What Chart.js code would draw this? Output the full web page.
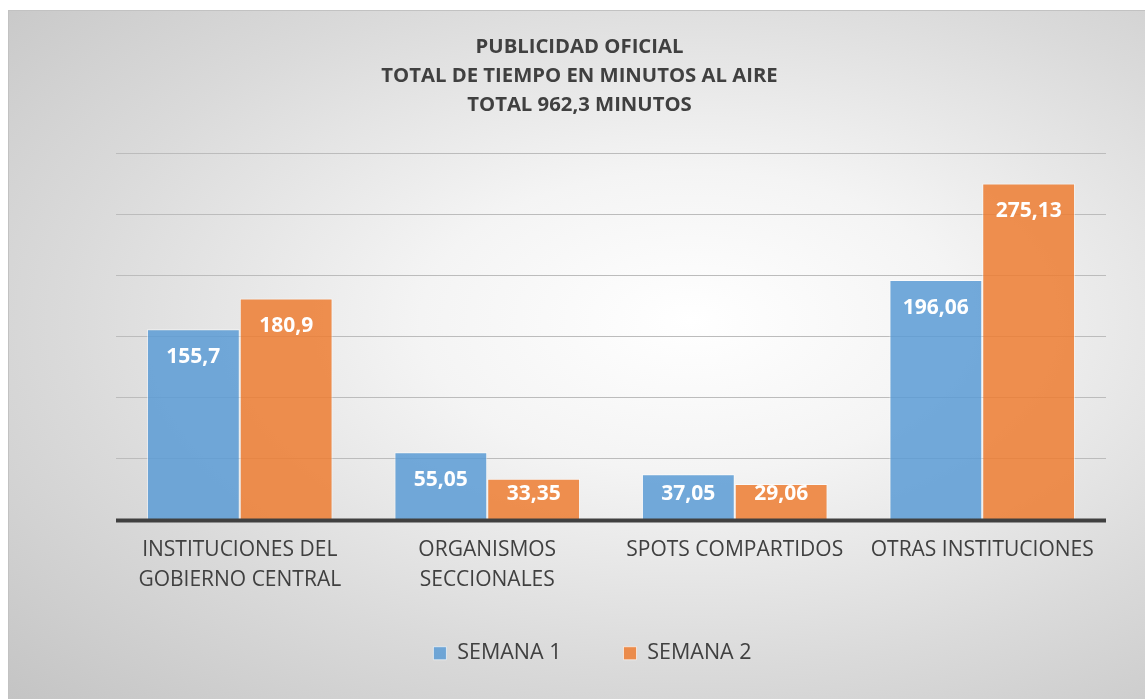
<!DOCTYPE html>
<html>
<head>
<meta charset="utf-8">
<script src="https://cdn.jsdelivr.net/npm/chart.js@4.4.0/dist/chart.umd.min.js"></script>
<style>
  html, body { margin: 0; padding: 0; background: #ffffff; overflow: hidden; }
  #box {
    position: absolute; left: 8px; top: 10px; width: 1137px; height: 689px; overflow: hidden;
    border-left: 1px solid #c2c2c2; border-top: 1px solid #c2c2c2;
    background: radial-gradient(ellipse farthest-corner at 60% 45%, #ffffff 0%, #f4f4f4 28%, #dadada 65%, #c4c4c4 100%);
  }
  #chart { display: block; }
</style>
</head>
<body>
<div id="box"><canvas id="chart" width="1136" height="700"></canvas></div>
<script>
const categorias = [
  ['INSTITUCIONES DEL', 'GOBIERNO CENTRAL'],
  ['ORGANISMOS', 'SECCIONALES'],
  'SPOTS COMPARTIDOS',
  'OTRAS INSTITUCIONES'
]
const semana1 = [155.7, 55.05, 37.05, 196.06]
const semana2 = [180.9, 33.35, 29.06, 275.13]
const titulo = ['PUBLICIDAD OFICIAL', 'TOTAL DE TIEMPO EN MINUTOS AL AIRE', 'TOTAL 962,3 MINUTOS']

const fuente = "'Open Sans', sans-serif"

// etiquetas blancas dentro de cada barra + linea base
const etiquetas = {
  id: 'etiquetas',
  afterLayout(chart) {
    // la leyenda va un poco mas arriba y a la derecha que en el layout normal
    const l = chart.legend
    l.top -= 31; l.bottom -= 31
    l.left += 13; l.right += 13
  },
  afterDatasetsDraw(chart) {
    const ctx = chart.ctx
    ctx.save()
    ctx.fillStyle = '#ffffff'
    ctx.font = 'bold 21px ' + fuente
    ctx.textAlign = 'center'
    ctx.textBaseline = 'middle'
    chart.data.datasets.forEach((ds, i) => {
      chart.getDatasetMeta(i).data.forEach((bar, j) => {
        // en barras bajas la etiqueta no baja de cierta altura
        let y = Math.min(bar.y + 28, bar.base - 25)
        ctx.fillText(String(ds.data[j]).replace('.', ','), bar.x, y)
      })
    })
    const y0 = chart.scales.y.getPixelForValue(0)
    ctx.strokeStyle = '#404040'
    ctx.lineWidth = 4
    ctx.beginPath()
    ctx.moveTo(chart.chartArea.left, y0 + 1)
    ctx.lineTo(chart.chartArea.right, y0 + 1)
    ctx.stroke()
    ctx.restore()
  }
}

new Chart(document.getElementById('chart'), {
  type: 'bar',
  data: {
    labels: categorias,
    datasets: [
      {
        label: 'SEMANA 1',
        data: semana1,
        backgroundColor: 'rgba(91,155,213,0.85)',
        borderColor: 'rgba(255,255,255,0.6)',
        borderWidth: 1
      },
      {
        label: 'SEMANA 2',
        data: semana2,
        backgroundColor: 'rgba(237,125,49,0.85)',
        borderColor: 'rgba(255,255,255,0.6)',
        borderWidth: 1
      }
    ]
  },
  options: {
    responsive: false,
    animation: false,
    categoryPercentage: 0.75,
    barPercentage: 1.0,
    layout: { padding: { left: 44, right: 39, top: 14, bottom: 6 } },
    scales: {
      y: {
        min: 0, max: 300,
        afterFit: scale => { scale.width = 63 },
        ticks: { display: false, stepSize: 50 },
        border: { display: false },
        grid: { color: '#bcbcbc', lineWidth: 1, drawTicks: false }
      },
      x: {
        grid: { display: false, drawTicks: false },
        border: { display: false },
        afterFit: scale => { scale.height = 92 },
        ticks: {
          color: '#404040',
          padding: 16,
          maxRotation: 0,
          autoSkip: false,
          font: { family: fuente, size: 21, lineHeight: '30px' }
        }
      }
    },
    plugins: {
      title: {
        display: true,
        text: titulo,
        color: '#404040',
        font: { family: fuente, size: 20.3, weight: 'bold', lineHeight: '29px' },
        padding: { top: 8, bottom: 33 }
      },
      legend: {
        position: 'bottom',
        labels: {
          color: '#404040',
          boxWidth: 13,
          boxHeight: 13,
          padding: 62,
          font: { family: fuente, size: 21.5 }
        }
      },
      tooltip: { enabled: false }
    }
  },
  plugins: [etiquetas]
})
</script>
</body>
</html>
